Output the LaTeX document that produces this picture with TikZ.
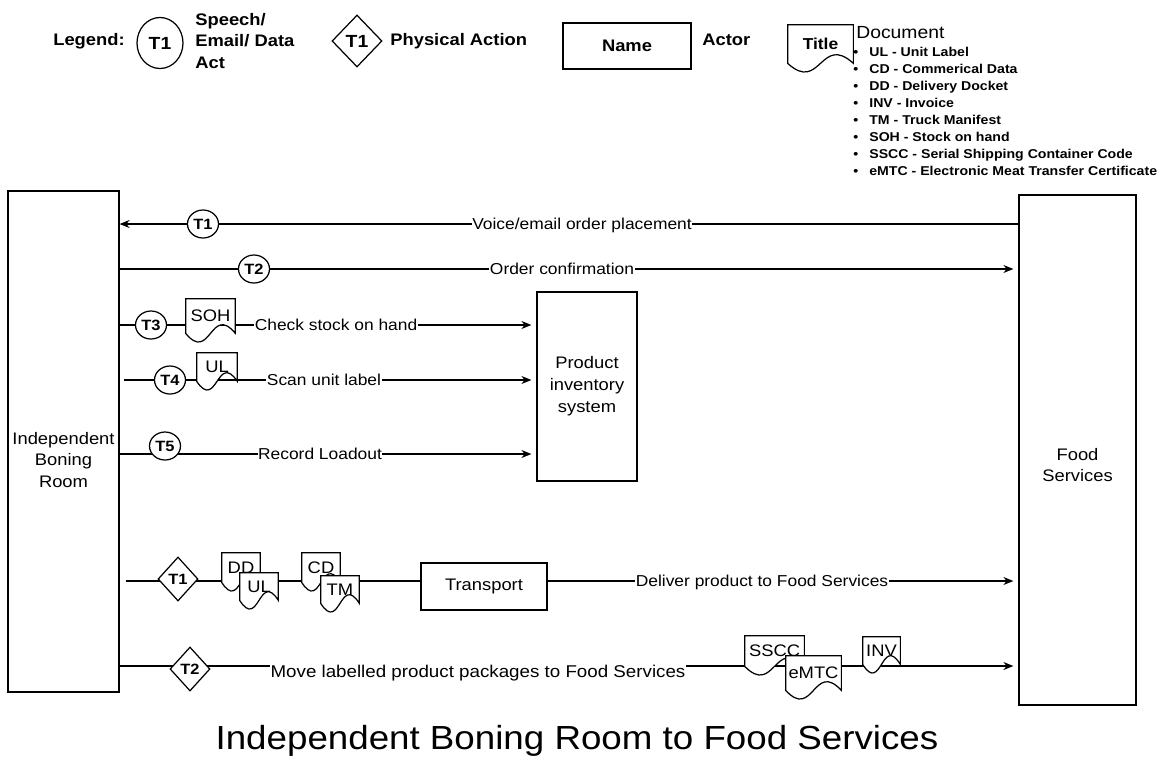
\documentclass[tikz,border=0pt]{standalone}
\usepackage{fontspec}
\setmainfont{Liberation Sans}[FakeStretch=1.1]
\usepackage{tikz}
\usetikzlibrary{calc,shapes.geometric,arrows.meta,backgrounds}

% document shape: name, x, y, width, height, text
\newcommand{\docshape}[6]{%
  \node[inner sep=0pt, minimum width=#4, minimum height=#5] (#1) at (#2,#3) {};
  \filldraw[docline] (#1.north west) -- (#1.north east) -- (#1.south east)
    .. controls ($(#1.south)+(0,-30)$) and ($(#1.south)+(0,30)$) .. (#1.south west) -- cycle;
  \node[doctxt] (#1-t) at (#1.center) {#6};}
\newcommand{\docitem}[1]{\makebox[3.2mm][l]{\textbullet}#1}

\begin{document}
\begin{tikzpicture}[x=0.2mm, y=-0.2mm,
  actor/.style={draw, line width=0.7pt, fill=white, inner sep=0pt, align=center, font=\fontsize{9.5}{12.5}\selectfont},
  act/.style={ellipse, draw, line width=0.7pt, fill=white, inner sep=0pt, minimum width=6.2mm, minimum height=5.6mm, font=\fontsize{8.5}{10}\selectfont\bfseries},
  phys/.style={diamond, draw, line width=0.7pt, fill=white, inner sep=0pt, minimum width=8mm, minimum height=8.8mm, font=\fontsize{8.5}{10}\selectfont\bfseries},
  lbl/.style={fill=white, inner xsep=0.3pt, inner ysep=2pt, text height=6.5pt, text depth=0pt, font=\fontsize{9}{11}\selectfont},
  leg/.style={inner sep=0pt, font=\fontsize{9.5}{12.5}\selectfont\bfseries},
  flow/.style={line width=0.7pt, -{Stealth[length=2mm, width=1.6mm]}},
  docline/.style={line width=0.7pt, fill=white},
  doctxt/.style={inner sep=0pt, font=\fontsize{9.5}{11}\selectfont}]
\useasboundingbox (0,0) rectangle (1168,764);
%legend
\node[leg] (leg) at (89,41) {Legend:};
\node[act, minimum width=9.2mm, minimum height=10.2mm, font=\fontsize{10}{12}\selectfont\bfseries] (lgact) at (160,43) {T1};
\node[leg, anchor=west, align=left] (lgacttxt) at (195,41) {Speech/\\Email/ Data\\Act};
\node[phys, minimum width=10mm, minimum height=10.4mm, font=\fontsize{10}{12}\selectfont\bfseries] (lgphys) at (357,41) {T1};
\node[leg, anchor=west] (lgphystxt) at (390,41) {Physical Action};
\node[actor, minimum width=25.6mm, minimum height=9.2mm, font=\fontsize{9.5}{12}\selectfont\bfseries] (lgname) at (627,46) {Name};
\node[leg, anchor=west] (lgactor) at (702,40) {Actor};
\docshape{lgdoc}{820.5}{44}{13mm}{7.6mm}{\fontsize{9}{11}\selectfont\bfseries Title}
\node[anchor=west, inner sep=0pt, font=\fontsize{10}{12}\selectfont] (lgdoctxt) at (856,33) {Document};
\node[anchor=north west, inner sep=0pt, align=left, font=\fontsize{7.3}{9.7}\selectfont\bfseries] (lglist) at (853,47)
  {\docitem{UL - Unit Label}\\\docitem{CD - Commerical Data}\\\docitem{DD - Delivery Docket}\\\docitem{INV - Invoice}\\
   \docitem{TM - Truck Manifest}\\\docitem{SOH - Stock on hand}\\\docitem{SSCC - Serial Shipping Container Code}\\
   \docitem{eMTC - Electronic Meat Transfer Certificate}};
%actors
\node[actor, minimum width=22.2mm, minimum height=100.2mm] (ibr) at (63.5,441.5) {};
\node[inner sep=0pt, align=center, font=\fontsize{9.5}{12.5}\selectfont] (ibr-t) at (63.5,460) {Independent\\Boning\\Room};
\node[actor, minimum width=23.4mm, minimum height=102mm] (fs) at (1077.5,450) {};
\node[inner sep=0pt, align=center, font=\fontsize{9.5}{12}\selectfont] (fs-t) at (1077.5,465) {Food\\Services};
\node[actor, minimum width=20mm, minimum height=37.8mm] (pis) at (587,386.5) {Product\\inventory\\system};
\node[actor, minimum width=25.2mm, minimum height=9.4mm] (tp) at (484,586.5) {Transport};
%speech/email/data acts
\node[act] (t1c) at (203,224) {T1};
\node[lbl] (ord) at (582,224) {Voice/email order placement};
\node[act] (t2c) at (254,269) {T2};
\node[lbl] (cnf) at (562,269) {Order confirmation};
\node[act] (t3c) at (151,325) {T3};
\docshape{soh}{210.5}{316}{9.8mm}{6.8mm}{SOH}
\node[lbl] (chk) at (336,325) {Check stock on hand};
\node[act] (t4c) at (170,380) {T4};
\docshape{ul}{217}{367}{8mm}{5.6mm}{UL}
\node[lbl] (scan) at (324,380) {Scan unit label~};
\node[act] (t5c) at (165,446) {T5};
\node[lbl] (rec) at (320,454) {Record Loadout};
%physical actions
\node[phys] (t1d) at (178,579) {T1};
\docshape{dd}{241}{567.5}{7.6mm}{5.8mm}{DD}
\docshape{ul2}{259}{586.5}{7.6mm}{5.4mm}{UL}
\docshape{cd}{321}{567.5}{7.6mm}{5.8mm}{CD}
\docshape{tm}{340}{589.5}{7.6mm}{5.4mm}{TM}
\node[lbl] (dlv) at (762,581) {Deliver product to Food Services};
\node[phys] (t2d) at (190,669) {T2};
\coordinate (r7) at (0,666);
\node[lbl, font=\fontsize{9.7}{11}\selectfont] (mov) at (478,672) {Move labelled product packages to Food Services~};
\docshape{sscc}{774.5}{651}{11.8mm}{6mm}{SSCC}
\docshape{emtc}{813.5}{673}{11mm}{6.8mm}{eMTC}
\docshape{inv}{881.5}{650.5}{7.4mm}{5.4mm}{INV}
%connectors
\begin{scope}[on background layer]
\draw[flow] (fs.west |- t1c) -- (ibr.east |- t1c);
\draw[flow, shorten >=1mm] (ibr.east |- t2c) -- (fs.west |- t2c);
\draw[flow, shorten >=1mm] (ibr.east |- t3c) -- (pis.west |- t3c);
\draw[flow, shorten <=0.8mm, shorten >=1mm] (ibr.east |- t4c) -- (pis.west |- t4c);
\draw[flow, shorten >=1mm] (ibr.east |- rec) -- (pis.west |- rec);
\draw[flow, shorten <=1.2mm, shorten >=1mm] (ibr.east |- dlv) -- (fs.west |- dlv);
\draw[flow, shorten >=1mm] (ibr.east |- r7) -- (fs.west |- r7);
\end{scope}
%title
\node[inner sep=0pt, font=\fontsize{19}{23}\selectfont] (ttl) at (577,741) {Independent Boning Room to Food Services};
\end{tikzpicture}
\end{document}
